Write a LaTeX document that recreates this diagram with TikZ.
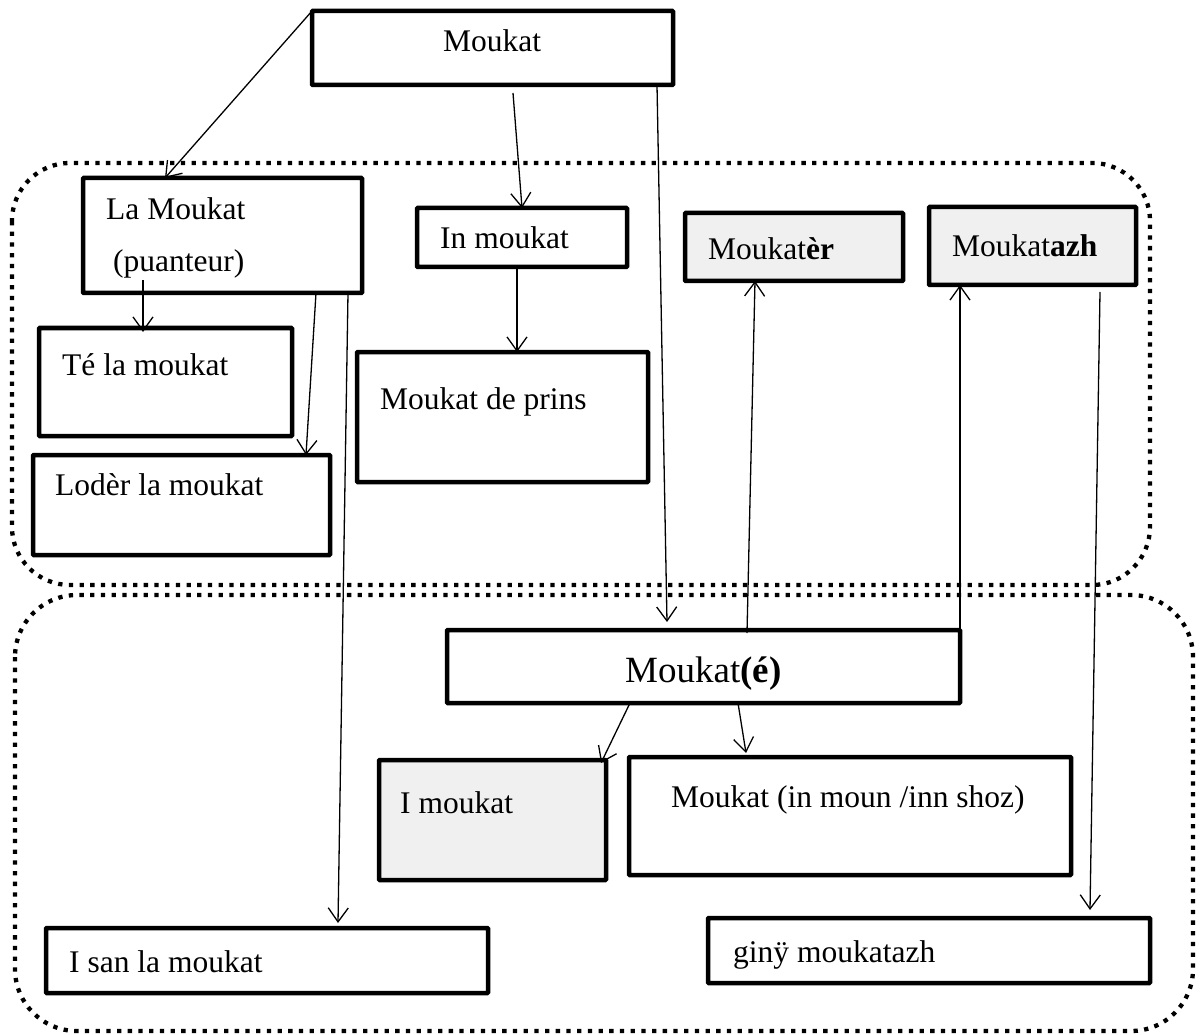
\documentclass[tikz,border=0pt]{standalone}
\usepackage{fontspec}
\setmainfont{Liberation Serif}
\usetikzlibrary{arrows.meta}
\definecolor{boxgray}{RGB}{240,240,240}
\begin{document}
\begin{tikzpicture}[x=1pt,y=-1pt,
  box/.style={draw, line width=4.5pt, inner sep=0pt, outer sep=0pt, anchor=north west, rounded corners=0.8pt},
  shaded/.style={box, fill=boxgray},
  lbl/.style={anchor=base west, inner sep=0pt, font=\fontsize{31.5}{38}\selectfont},
  biglbl/.style={lbl, font=\fontsize{37}{44}\selectfont},
  arr/.style={line width=1.3pt, -{Straight Barb[length=14pt,width=20pt]}},
  zone/.style={line width=4.3pt, dash pattern=on 4.3pt off 6.4pt}
]
\useasboundingbox (0,0) rectangle (1203,1035);

% dotted groupings
\draw[zone, rounded corners=58pt] (12,163) rectangle (1150,585);
\draw[zone, rounded corners=62pt] (15,595) rectangle (1193,1031);

% boxes
\node[box, minimum width=361pt, minimum height=74pt]  (top) at (312,11)  {};
\node[box, minimum width=279pt, minimum height=115pt] (lam) at (83,178)  {};
\node[box, minimum width=210pt, minimum height=59pt]  (inm) at (417,208) {};
\node[shaded, minimum width=218pt, minimum height=68pt] (mkr) at (685,213) {};
\node[shaded, minimum width=207pt, minimum height=78pt] (mkz) at (929,207) {};
\node[box, minimum width=253pt, minimum height=108pt] (tle) at (39,328)  {};
\node[box, minimum width=297pt, minimum height=100pt] (ldr) at (33,455)  {};
\node[box, minimum width=291pt, minimum height=130pt] (mdp) at (357,352) {};
\node[box, minimum width=513pt, minimum height=73pt]  (mke) at (447,630) {};
\node[shaded, minimum width=227pt, minimum height=120pt] (imk) at (379,760) {};
\node[box, minimum width=442pt, minimum height=118pt] (ims) at (629,757) {};
\node[box, minimum width=442pt, minimum height=65pt]  (isn) at (46,928)  {};
\node[box, minimum width=442pt, minimum height=65pt]  (gny) at (708,918) {};

% texts
\node[lbl] (t-top) at (443,52)  {Moukat};
\node[lbl] (t-lam) at (106,220) {La Moukat};
\node[lbl] (t-pua) at (113,272) {(puanteur)};
\node[lbl] (t-inm) at (440,249) {In moukat};
\node[lbl] (t-mkr) at (708,260) {Moukat\textbf{èr}};
\node[lbl] (t-mkz) at (952,257) {Moukat\textbf{azh}};
\node[lbl] (t-tle) at (62,375)  {Té la moukat};
\node[lbl] (t-ldr) at (55,495)  {Lodèr la moukat};
\node[lbl] (t-mdp) at (380,409) {Moukat de prins};
\node[biglbl] (t-mke) at (625,682) {Moukat\textbf{(é)}};
\node[lbl] (t-imk) at (400,813) {I moukat};
\node[lbl] (t-ims) at (671,807) {Moukat (in moun /inn shoz)};
\node[lbl] (t-isn) at (69,972)  {I san la moukat};
\node[lbl] (t-gny) at (733,962) {ginÿ moukatazh};

% connectors
\draw[arr] (top.north west) -- ([xshift=82pt]lam.north west);
\draw[arr] ([xshift=201pt,yshift=-8pt]top.south west) -- (inm.north);
\draw[arr] ([xshift=-16pt]top.south east) -- ([xshift=220pt,yshift=8pt]mke.north west);
\draw[arr] ([xshift=100pt]inm.south west) -- ([xshift=160pt]mdp.north west);
\draw[arr] ([xshift=60pt,yshift=13pt]lam.south west) -- ([xshift=104pt,yshift=-4pt]tle.north west);
\draw[arr] ([xshift=233pt]lam.south west) -- ([xshift=273pt]ldr.north west);
\draw[arr] ([xshift=265pt]lam.south west) -- ([xshift=292pt,yshift=5pt]isn.north west);
\draw[arr] ([xshift=300pt,yshift=-3pt]mke.north west) -- ([xshift=70pt]mkr.south west);
\draw[arr] (mke.north east) -- ([xshift=31pt]mkz.south west);
\draw[arr] ([xshift=-36pt,yshift=-7pt]mkz.south east) -- ([xshift=382pt,yshift=8pt]gny.north west);
\draw[arr] ([xshift=183pt]mke.south west) -- ([xshift=-5pt,yshift=-3pt]imk.north east);
\draw[arr] ([xshift=291pt]mke.south west) -- ([xshift=117pt,yshift=4pt]ims.north west);
\end{tikzpicture}
\end{document}
